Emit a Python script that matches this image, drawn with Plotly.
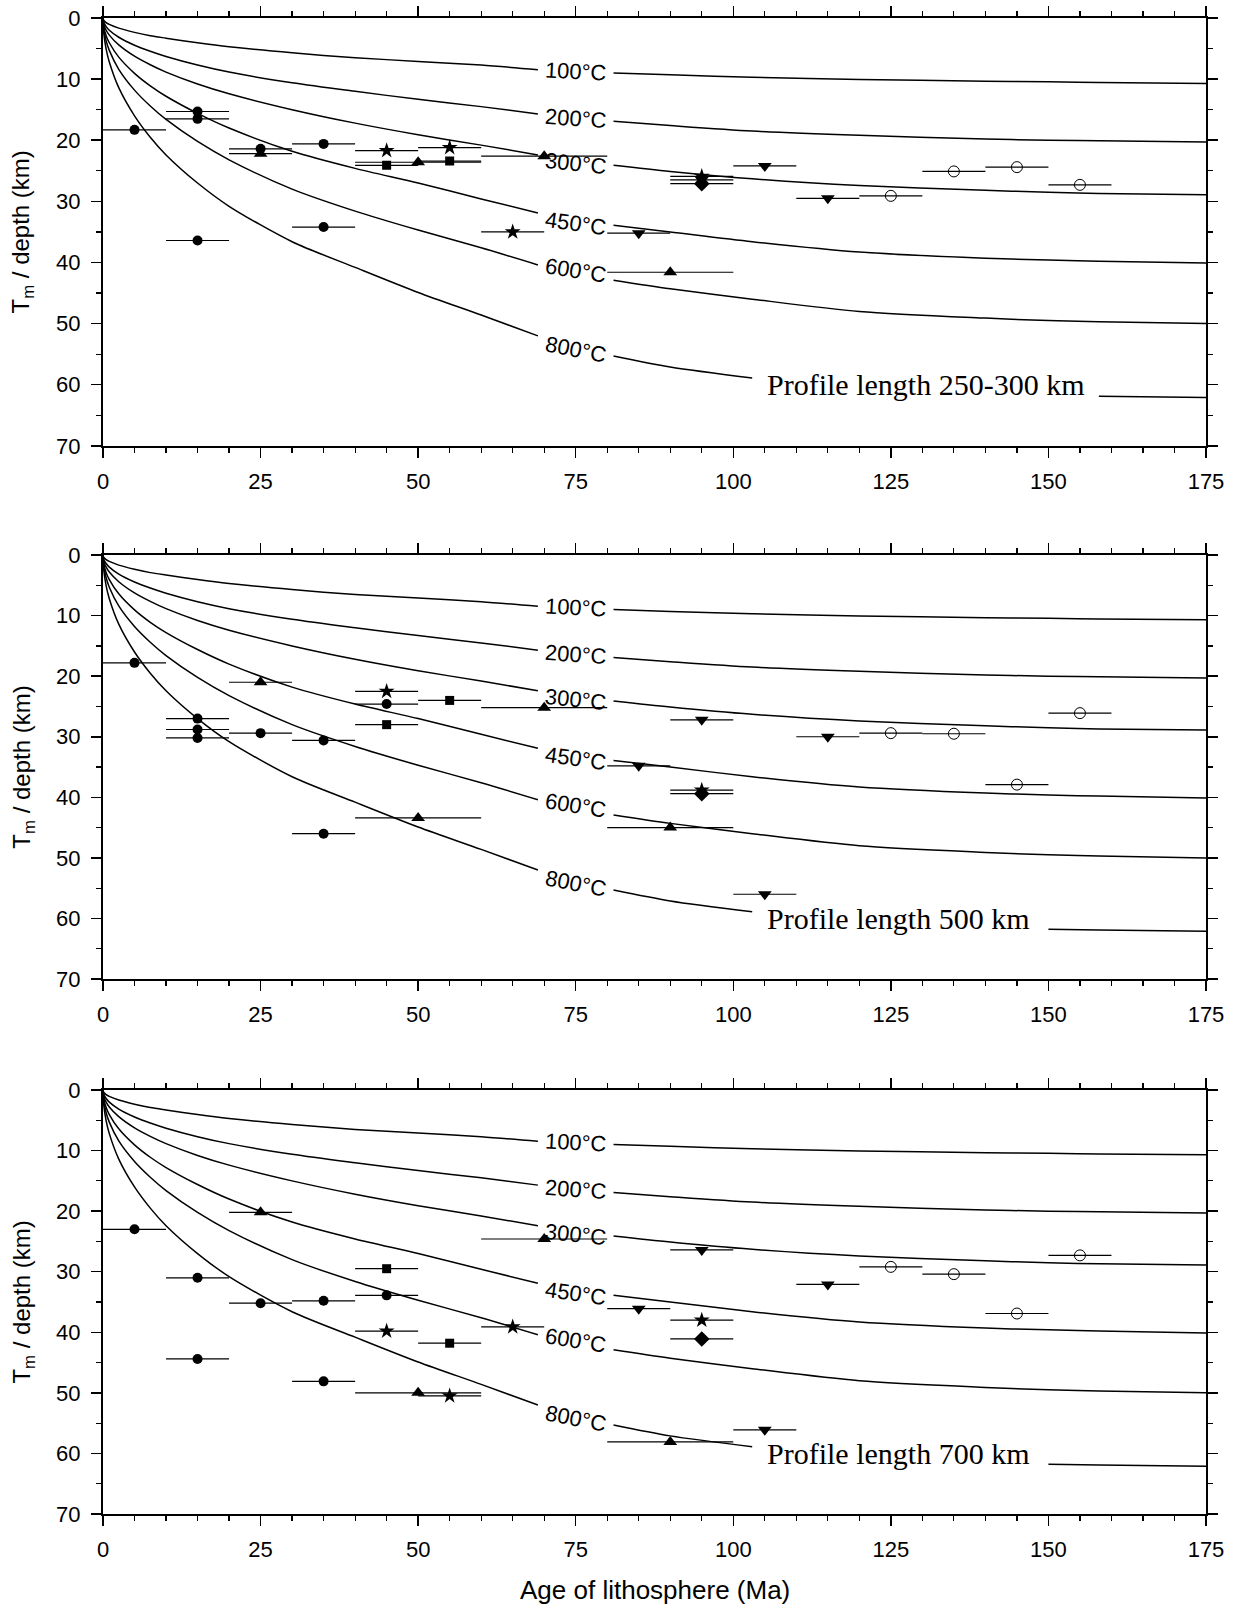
import plotly.graph_objects as go

# ---------------- isotherm depths (km) ----------------
ISO_AGE = [0, 0.1, 0.5, 1, 2.5, 5, 7.5, 10, 15, 20, 30, 40, 50, 60, 69, 81, 90, 103, 120, 140, 150, 158, 175]
ISO_100 = [0, 0.33, 0.75, 1.05, 1.66, 2.35, 2.9, 3.3, 4.05, 4.7, 5.7, 6.5, 7.1, 7.7, 8.45, 9.0, 9.3, 9.7, 10.05, 10.35, 10.45, 10.55, 10.7]
ISO_200 = [0, 0.63, 1.4, 2.0, 3.15, 4.45, 5.45, 6.3, 7.7, 8.85, 10.6, 12.0, 13.3, 14.5, 15.7, 16.9, 17.6, 18.5, 19.2, 19.8, 20.0, 20.1, 20.3]
ISO_300 = [0, 0.88, 2.0, 2.8, 4.4, 6.25, 7.65, 8.85, 10.8, 12.4, 15.0, 17.2, 19.1, 20.8, 22.4, 24.1, 25.1, 26.3, 27.4, 28.2, 28.5, 28.7, 28.9]
ISO_450 = [0, 1.28, 2.9, 4.05, 6.4, 9.05, 11.1, 12.8, 15.6, 18.0, 21.8, 24.6, 27.0, 29.6, 31.9, 33.9, 35.0, 36.6, 38.3, 39.3, 39.6, 39.8, 40.1]
ISO_600 = [0, 1.68, 3.75, 5.3, 8.4, 11.8, 14.4, 16.6, 20.2, 23.2, 28.0, 31.6, 34.7, 37.6, 40.4, 42.9, 44.3, 46.0, 48.0, 49.1, 49.5, 49.7, 50.0]
ISO_800 = [0, 2.28, 5.1, 7.2, 11.4, 16.0, 19.5, 22.4, 27.0, 30.8, 36.6, 40.8, 44.9, 48.6, 52.0, 55.3, 57.1, 58.9, 60.5, 61.5, 61.8, 61.9, 62.1]
ISO_LABELS = ["100°C", "200°C", "300°C", "450°C", "600°C", "800°C"]

# ---------------- data points: age (Ma), depth (km), half bin width (Ma), group ----------------
P1_AGE = [5, 15, 15, 15, 25, 35, 35,
          25, 50, 70, 90,
          45, 55, 65, 95,
          45, 55,
          85, 95, 105, 115,
          95,
          125, 135, 145, 155]
P1_DEPTH = [18.3, 15.3, 16.5, 36.4, 21.4, 20.6, 34.2,
            22.2, 23.6, 22.6, 41.6,
            21.7, 21.2, 35.0, 25.9,
            24.1, 23.4,
            35.2, 26.5, 24.2, 29.5,
            27.1,
            29.1, 25.1, 24.4, 27.3]
P1_BIN = [5, 5, 5, 5, 5, 5, 5,
          5, 10, 10, 10,
          5, 5, 5, 5,
          5, 5,
          5, 5, 5, 5,
          5,
          5, 5, 5, 5]
P1_GROUP = ["A", "A", "A", "A", "A", "A", "A",
            "B", "B", "B", "B",
            "C", "C", "C", "C",
            "D", "D",
            "E", "E", "E", "E",
            "F",
            "G", "G", "G", "G"]

P2_AGE = [5, 15, 15, 15, 25, 35, 35, 45,
          25, 50, 70, 90,
          45, 95,
          45, 55,
          85, 95, 105, 115,
          95,
          125, 135, 145, 155]
P2_DEPTH = [17.8, 27.0, 28.8, 30.2, 29.4, 30.6, 46.0, 24.6,
            21.0, 43.4, 25.2, 45.0,
            22.5, 38.8,
            28.0, 24.0,
            34.8, 27.2, 56.0, 30.0,
            39.4,
            29.4, 29.5, 37.9, 26.1]
P2_BIN = [5, 5, 5, 5, 5, 5, 5, 5,
          5, 10, 10, 10,
          5, 5,
          5, 5,
          5, 5, 5, 5,
          5,
          5, 5, 5, 5]
P2_GROUP = ["A", "A", "A", "A", "A", "A", "A", "A",
            "B", "B", "B", "B",
            "C", "C",
            "D", "D",
            "E", "E", "E", "E",
            "F",
            "G", "G", "G", "G"]

P3_AGE = [5, 15, 15, 25, 35, 35, 45,
          25, 50, 70, 90,
          45, 55, 65, 95,
          45, 55,
          85, 95, 105, 115,
          95,
          125, 135, 145, 155]
P3_DEPTH = [23.0, 31.0, 44.4, 35.2, 34.8, 48.1, 33.9,
            20.2, 50.0, 24.6, 58.1,
            39.8, 50.5, 39.1, 38.0,
            29.5, 41.8,
            36.1, 26.4, 56.1, 32.1,
            41.1,
            29.2, 30.4, 36.9, 27.3]
P3_BIN = [5, 5, 5, 5, 5, 5, 5,
          5, 10, 10, 10,
          5, 5, 5, 5,
          5, 5,
          5, 5, 5, 5,
          5,
          5, 5, 5, 5]
P3_GROUP = ["A", "A", "A", "A", "A", "A", "A",
            "B", "B", "B", "B",
            "C", "C", "C", "C",
            "D", "D",
            "E", "E", "E", "E",
            "F",
            "G", "G", "G", "G"]

PANEL_TITLES = ["Profile length 250-300 km", "Profile length 500 km", "Profile length 700 km"]
X_TICKS = [0, 25, 50, 75, 100, 125, 150, 175]
Y_TICKS = [0, 10, 20, 30, 40, 50, 60, 70]

# ---------------- styles / layout constants ----------------
SYMBOLS = {
    "A": dict(symbol="circle", size=10, color="black", line=dict(width=0)),
    "B": dict(symbol="triangle-up", size=12, color="black", line=dict(width=0)),
    "C": dict(symbol="star", size=12, color="black", line=dict(width=0)),
    "D": dict(symbol="square", size=9, color="black", line=dict(width=0)),
    "E": dict(symbol="triangle-down", size=12, color="black", line=dict(width=0)),
    "F": dict(symbol="diamond", size=12, color="black", line=dict(width=0)),
    "G": dict(symbol="circle-open", size=11, color="black", line=dict(width=1, color="black")),
}
LABEL_GAP = (69, 81)
TEXT_GAP = [(103, 158), (103, 150), (103, 150)]
LABEL_Y = [8.7, 16.4, 23.8, 33.6, 41.3, 54.3]
LABEL_ANGLE = [3, 4, 6, 8, 9, 11]
DOMAINS = [[0.714, 1.0], [0.3576, 0.641], [0.0, 0.2834]]
SANS = "Liberation Sans, Arial, Helvetica, sans-serif"
SERIF = "Liberation Serif, Times New Roman, serif"

isotherms = [ISO_100, ISO_200, ISO_300, ISO_450, ISO_600, ISO_800]
panels = [
    (P1_AGE, P1_DEPTH, P1_BIN, P1_GROUP),
    (P2_AGE, P2_DEPTH, P2_BIN, P2_GROUP),
    (P3_AGE, P3_DEPTH, P3_BIN, P3_GROUP),
]


def segmented(ages, depths, gaps):
    """Split a curve into pieces so that it is not drawn inside the label gaps."""
    xs, ys = [], []
    for a, d in zip(ages, depths):
        if any(lo < a < hi for lo, hi in gaps):
            continue
        if xs and xs[-1] is not None:
            last = xs[-1]
            if any(last <= lo and a >= hi for lo, hi in gaps):
                xs.append(None)
                ys.append(None)
        xs.append(a)
        ys.append(d)
    return xs, ys


fig = go.Figure()
annotations = []

for p, (ages, depths, bins, groups) in enumerate(panels):
    xa = "x" if p == 0 else f"x{p+1}"
    ya = "y" if p == 0 else f"y{p+1}"
    for k, iso in enumerate(isotherms):
        gaps = [LABEL_GAP]
        if k == len(isotherms) - 1:
            gaps.append(TEXT_GAP[p])
        xs, ys = segmented(ISO_AGE, iso, gaps)
        fig.add_trace(go.Scatter(
            x=xs, y=ys, mode="lines", xaxis=xa, yaxis=ya,
            line=dict(color="black", width=1.5, shape="spline", smoothing=0.8),
            connectgaps=False, showlegend=False, hoverinfo="skip"))
        annotations.append(dict(
            x=75, y=LABEL_Y[k], xref=xa, yref=ya, text=ISO_LABELS[k],
            showarrow=False, textangle=LABEL_ANGLE[k],
            font=dict(family=SANS, size=22, color="black"),
            xanchor="center", yanchor="middle"))
    for g in ["A", "B", "C", "D", "E", "F", "G"]:
        idx = [i for i, gg in enumerate(groups) if gg == g]
        if not idx:
            continue
        fig.add_trace(go.Scatter(
            x=[ages[i] for i in idx], y=[depths[i] for i in idx],
            mode="markers", xaxis=xa, yaxis=ya,
            marker=SYMBOLS[g],
            error_x=dict(type="data", array=[bins[i] for i in idx], width=0,
                         thickness=1.2, color="black"),
            showlegend=False, hoverinfo="skip"))
    annotations.append(dict(
        x=105, y=60, xref=xa, yref=ya, text=PANEL_TITLES[p], showarrow=False,
        font=dict(family=SERIF, size=30, color="black"),
        xanchor="left", yanchor="middle"))
    annotations.append(dict(
        x=-0.0729, y=sum(DOMAINS[p]) / 2, xref="paper", yref="paper",
        text="T<sub>m</sub> / depth (km)", showarrow=False, textangle=-90,
        font=dict(family=SANS, size=24, color="black"),
        xanchor="center", yanchor="middle"))

annotations.append(dict(
    x=0.5, y=-0.0508, xref="paper", yref="paper", text="Age of lithosphere (Ma)",
    showarrow=False, font=dict(family=SANS, size=26, color="black"),
    xanchor="center", yanchor="middle"))

axis_common = dict(
    showline=True, linecolor="black", linewidth=2, mirror="ticks",
    ticks="outside", ticklen=10, tickwidth=1.5, tickcolor="black",
    showgrid=False, zeroline=False, automargin=False, ticklabeloverflow="allow",
    tickfont=dict(family=SANS, size=22, color="black"),
)

layout = dict(
    width=1241, height=1608,
    margin=dict(l=103, r=35, t=18, b=94, autoexpand=False),
    paper_bgcolor="white", plot_bgcolor="white",
    annotations=annotations,
    hovermode=False,
)
for p in range(3):
    xk = "xaxis" if p == 0 else f"xaxis{p+1}"
    yk = "yaxis" if p == 0 else f"yaxis{p+1}"
    ya = "y" if p == 0 else f"y{p+1}"
    xa = "x" if p == 0 else f"x{p+1}"
    layout[xk] = dict(axis_common, range=[0, 175], tickvals=X_TICKS, anchor=ya,
                      domain=[0, 1], ticklabelstandoff=5,
                      minor=dict(dtick=5, tick0=0, ticklen=5, tickwidth=1.2,
                                 tickcolor="black", ticks="outside", showgrid=False))
    layout[yk] = dict(axis_common, range=[70, 0], tickvals=Y_TICKS, anchor=xa,
                      domain=DOMAINS[p], ticklabelstandoff=6,
                      minor=dict(dtick=5, tick0=0, ticklen=5, tickwidth=1.2,
                                 tickcolor="black", ticks="outside", showgrid=False))

fig.update_layout(**layout)
# remove the browser's default 8 px body margin so the figure fills the window exactly
fig.write_html("out.html", config={"displayModeBar": False, "staticPlot": True},
               post_script="document.body.style.margin='0px';")
